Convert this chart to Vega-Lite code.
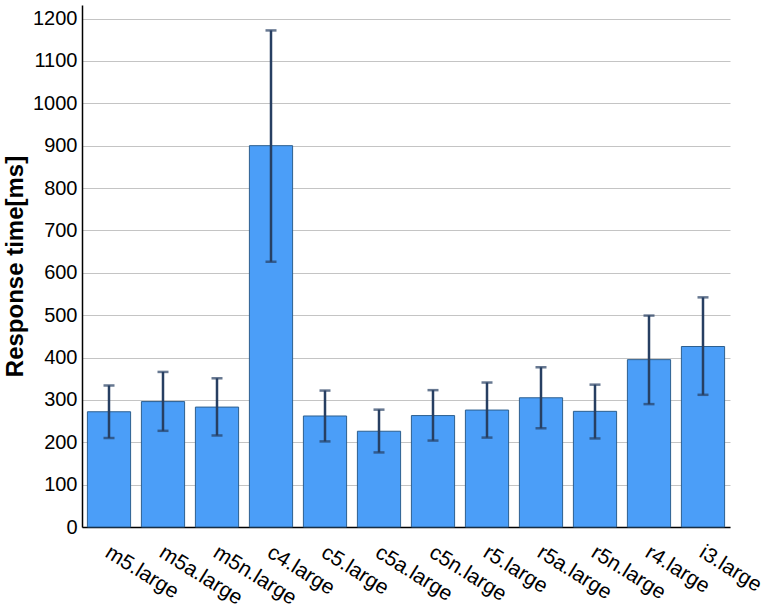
{
  "$schema": "https://vega.github.io/schema/vega-lite/v6.json",
  "autosize": "none",
  "width": 648,
  "height": 522,
  "padding": {"left": 82, "top": 5, "right": 38, "bottom": 80},
  "background": "white",
  "config": {
    "font": "Liberation Sans",
    "view": {"stroke": null},
    "axis": {"labelFont": "Liberation Sans", "titleFont": "Liberation Sans"}
  },
  "data": {
    "values": [
      {"name": "m5.large", "value": 272, "lo": 210, "hi": 334},
      {"name": "m5a.large", "value": 296, "lo": 227, "hi": 366},
      {"name": "m5n.large", "value": 283, "lo": 216, "hi": 351},
      {"name": "c4.large", "value": 900, "lo": 626, "hi": 1172},
      {"name": "c5.large", "value": 262, "lo": 202, "hi": 322},
      {"name": "c5a.large", "value": 226, "lo": 176, "hi": 277},
      {"name": "c5n.large", "value": 263, "lo": 204, "hi": 323},
      {"name": "r5.large", "value": 276, "lo": 211, "hi": 341},
      {"name": "r5a.large", "value": 305, "lo": 233, "hi": 377},
      {"name": "r5n.large", "value": 273, "lo": 209, "hi": 336},
      {"name": "r4.large", "value": 395, "lo": 290, "hi": 499},
      {"name": "i3.large", "value": 426, "lo": 312, "hi": 542}
    ]
  },
  "encoding": {
    "x": {
      "field": "name",
      "type": "nominal",
      "sort": null,
      "scale": {"paddingInner": 0.2, "paddingOuter": 0.1},
      "axis": {
        "title": null,
        "labelAngle": 32,
        "labelAlign": "left",
        "labelBaseline": "top",
        "labelFontSize": 21,
        "labelColor": "#000",
        "labelPadding": 14,
        "labelOffset": 4,
        "ticks": false,
        "domainColor": "#000",
        "domainWidth": 1.5,
        "grid": false
      }
    }
  },
  "layer": [
    {
      "mark": {"type": "bar", "fill": "#4b9ef8", "stroke": "#2d5f8f", "strokeWidth": 1},
      "encoding": {
        "y": {
          "field": "value",
          "type": "quantitative",
          "scale": {"domain": [0, 1232], "nice": false},
          "axis": {
            "title": "Response time[ms]",
            "titleFontSize": 24,
            "titleFontWeight": "bold",
            "titleColor": "#000",
            "titlePadding": 5,
            "format": "d",
            "values": [0, 100, 200, 300, 400, 500, 600, 700, 800, 900, 1000, 1100, 1200],
            "labelFontSize": 20,
            "labelColor": "#000",
            "labelPadding": 5,
            "ticks": false,
            "domainColor": "#000",
            "domainWidth": 1.5,
            "gridColor": "#c4c4c4",
            "gridWidth": 1
          }
        }
      }
    },
    {
      "mark": {"type": "rule", "color": "#273f62", "strokeWidth": 2.5},
      "encoding": {
        "y": {"field": "lo", "type": "quantitative"},
        "y2": {"field": "hi"}
      }
    },
    {
      "mark": {"type": "tick", "color": "#273f62", "thickness": 2.5, "size": 11},
      "encoding": {
        "y": {"field": "lo", "type": "quantitative"}
      }
    },
    {
      "mark": {"type": "tick", "color": "#273f62", "thickness": 2.5, "size": 11},
      "encoding": {
        "y": {"field": "hi", "type": "quantitative"}
      }
    }
  ]
}
